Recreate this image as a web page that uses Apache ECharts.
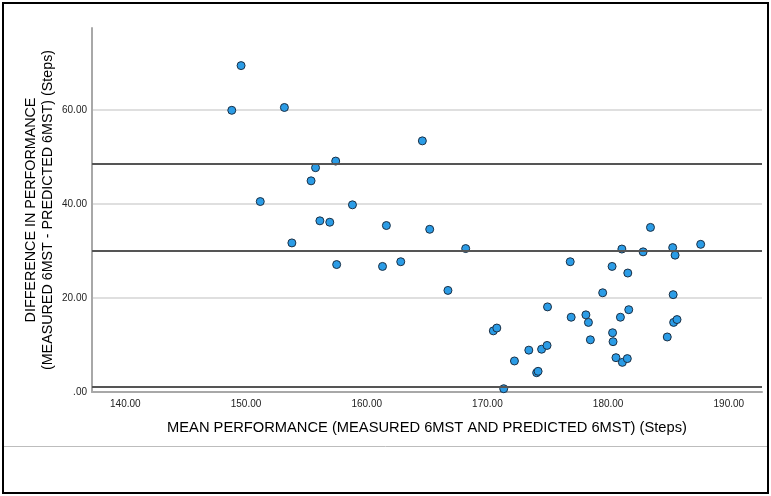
<!DOCTYPE html>
<html>
<head>
<meta charset="utf-8">
<script src="https://cdn.jsdelivr.net/npm/echarts@6/dist/echarts.min.js"></script>
<style>
  html, body { margin: 0; padding: 0; background: #fff; }
  #chart { width: 771px; height: 496px; }
</style>
</head>
<body>
<div id="chart"></div>
<script>
// Mean performance (x) and difference in performance (y)
const meanPerformance = [
  149.59, 148.82, 153.18, 164.61, 157.43, 155.76, 155.39, 151.18, 158.82, 156.12,
  156.94, 161.63, 165.22, 153.80, 168.20, 157.51, 161.31, 162.82, 166.73, 170.49,
  170.78, 172.24, 171.35, 173.43, 174.08, 174.20, 174.49, 174.94, 174.98, 176.86,
  176.94, 178.16, 178.37, 178.53, 179.55, 180.33, 180.37, 180.41, 180.65, 181.02,
  181.14, 181.18, 181.59, 181.63, 181.71, 182.90, 183.51, 184.90, 185.35, 185.39,
  185.43, 185.55, 185.71, 187.67
];
const differencePerformance = [
  69.4, 59.9, 60.5, 53.4, 49.1, 47.7, 44.9, 40.5, 39.8, 36.4,
  36.1, 35.4, 34.6, 31.7, 30.5, 27.1, 26.7, 27.7, 21.6, 13.0,
  13.6, 6.6, 0.7, 8.9, 4.1, 4.4, 9.1, 9.9, 18.1, 27.7,
  15.9, 16.4, 14.8, 11.1, 21.1, 26.7, 12.6, 10.7, 7.3, 15.9,
  30.4, 6.3, 7.1, 25.3, 17.5, 29.8, 35.0, 11.7, 30.7, 20.7,
  14.8, 29.1, 15.4, 31.4
];
// Horizontal reference lines (upper limit, mean, lower limit)
const referenceLines = [48.6, 30.1, 1.1];
const xTickValues = [140, 150, 160, 170, 180, 190];

const points = meanPerformance.map((x, i) => [x, differencePerformance[i]]);

const chart = echarts.init(document.getElementById('chart'), null, { renderer: 'canvas' });
const fontFamily = '"Liberation Sans", Arial, sans-serif';

chart.setOption({
  backgroundColor: '#ffffff',
  animation: false,
  grid: { left: 92, right: 9, top: 28, bottom: 104, containLabel: false, outerBoundsMode: 'none' },
  graphic: [
    { type: 'rect', shape: { x: 3, y: 3, width: 765, height: 490 },
      style: { fill: 'none', stroke: '#000', lineWidth: 2 }, silent: true, z: 100 },
    { type: 'line', shape: { x1: 4, y1: 446.5, x2: 767, y2: 446.5 },
      style: { stroke: '#bdbdbd', lineWidth: 1 }, silent: true }
  ],
  xAxis: {
    type: 'value',
    min: 137.24,
    max: 192.75,
    name: 'MEAN PERFORMANCE (MEASURED 6MST AND PREDICTED 6MST) (Steps)',
    nameLocation: 'middle',
    nameGap: 28,
    nameMoveOverlap: false,
    nameTextStyle: { fontFamily, fontSize: 14.7, color: '#000' },
    axisLine: { show: true, onZero: false, lineStyle: { color: '#a8a8a8', width: 2 } },
    axisTick: { show: false },
    splitLine: { show: false },
    axisLabel: {
      customValues: xTickValues,
      formatter: v => v.toFixed(2),
      fontFamily, fontSize: 10, color: '#222', margin: 7
    }
  },
  yAxis: {
    type: 'value',
    min: 0,
    max: 77.4,
    interval: 20,
    name: 'DIFFERENCE IN PERFORMANCE\n(MEASURED 6MST - PREDICTED 6MST) (Steps)',
    nameLocation: 'middle',
    nameRotate: 90,
    nameGap: 35,
    nameMoveOverlap: false,
    nameTextStyle: { fontFamily, fontSize: 14.3, color: '#000', lineHeight: 17 },
    axisLine: { show: true, lineStyle: { color: '#a8a8a8', width: 2 } },
    axisTick: { show: false },
    splitLine: { show: true, showMinLine: false, showMaxLine: false,
      lineStyle: { color: '#d4d4d4', width: 1.5 } },
    axisLabel: {
      showMaxLabel: false,
      formatter: v => v === 0 ? '.00' : v.toFixed(2),
      fontFamily, fontSize: 10, color: '#222', margin: 5
    }
  },
  series: [{
    type: 'scatter',
    data: points,
    symbol: 'circle',
    symbolSize: 8,
    itemStyle: { color: '#2b9ce6', borderColor: '#1b2f44', borderWidth: 1, opacity: 1 },
    markLine: {
      silent: true,
      symbol: 'none',
      label: { show: false },
      lineStyle: { color: '#555555', width: 2, type: 'solid' },
      data: referenceLines.map(v => ({ yAxis: v }))
    },
    z: 3
  }]
});
</script>
</body>
</html>
